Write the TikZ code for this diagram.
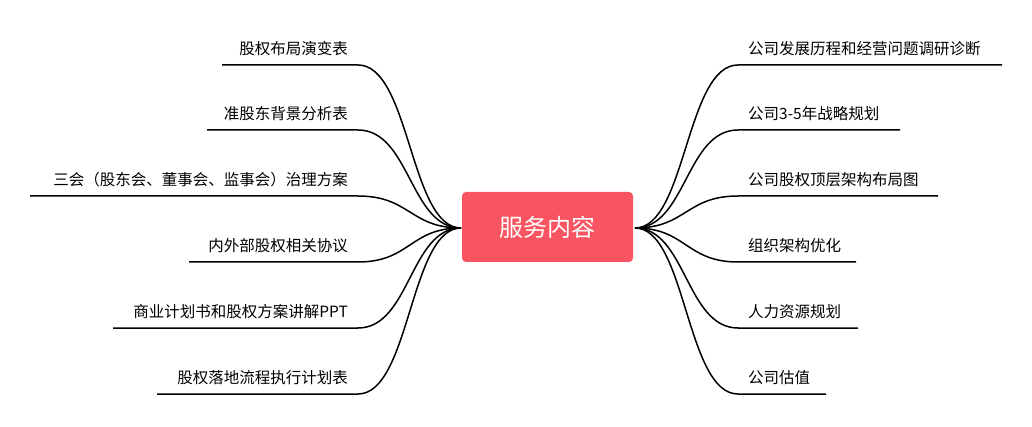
\documentclass[tikz,border=0pt]{standalone}
\usepackage{fontspec}
\setmainfont{Noto Sans CJK SC}
\definecolor{boxred}{HTML}{F95461}
\begin{document}
\begin{tikzpicture}[x=1pt,y=-1pt,
  branch/.style={line width=1.5pt,black},
  item/.style={font=\fontsize{15.5}{18}\selectfont,inner sep=0pt}]
\useasboundingbox (0,0) rectangle (1032,427);
% central topic
\node[fill=boxred,rounded corners=4pt,minimum width=171pt,minimum height=70pt,
  text=white,font=\fontsize{24}{28}\selectfont] (hub) at (547.5,227) {服务内容};
\coordinate (hl) at (461,228);
\coordinate (hr) at (635,228);

% left side
\foreach \y/\xs/\t [count=\i] in {65/222/股权布局演变表, 130/207/准股东背景分析表,
  196/30/三会（股东会、董事会、监事会）治理方案, 262/189/内外部股权相关协议,
  328/113/商业计划书和股权方案讲解PPT, 394/157/股权落地流程执行计划表}{
  \coordinate (l\i) at (358,\y);
  \coordinate (ls\i) at (\xs,\y);
  \draw[branch] (hl) .. controls (410,228) and (410,\y) .. (l\i) -- (ls\i);
  \node[item,anchor=east] (lt\i) at (348,\y-16) {\t};
}

% right side
\foreach \y/\xe/\t [count=\i] in {65/1002/公司发展历程和经营问题调研诊断, 130/900/公司3-5年战略规划,
  196/938/公司股权顶层架构布局图, 262/856/组织架构优化,
  328/858/人力资源规划, 394/826/公司估值}{
  \coordinate (r\i) at (738,\y);
  \coordinate (re\i) at (\xe,\y);
  \draw[branch] (hr) .. controls (686,228) and (686,\y) .. (r\i) -- (re\i);
  \node[item,anchor=west] (rt\i) at (748,\y-16) {\t};
}
\end{tikzpicture}
\end{document}
